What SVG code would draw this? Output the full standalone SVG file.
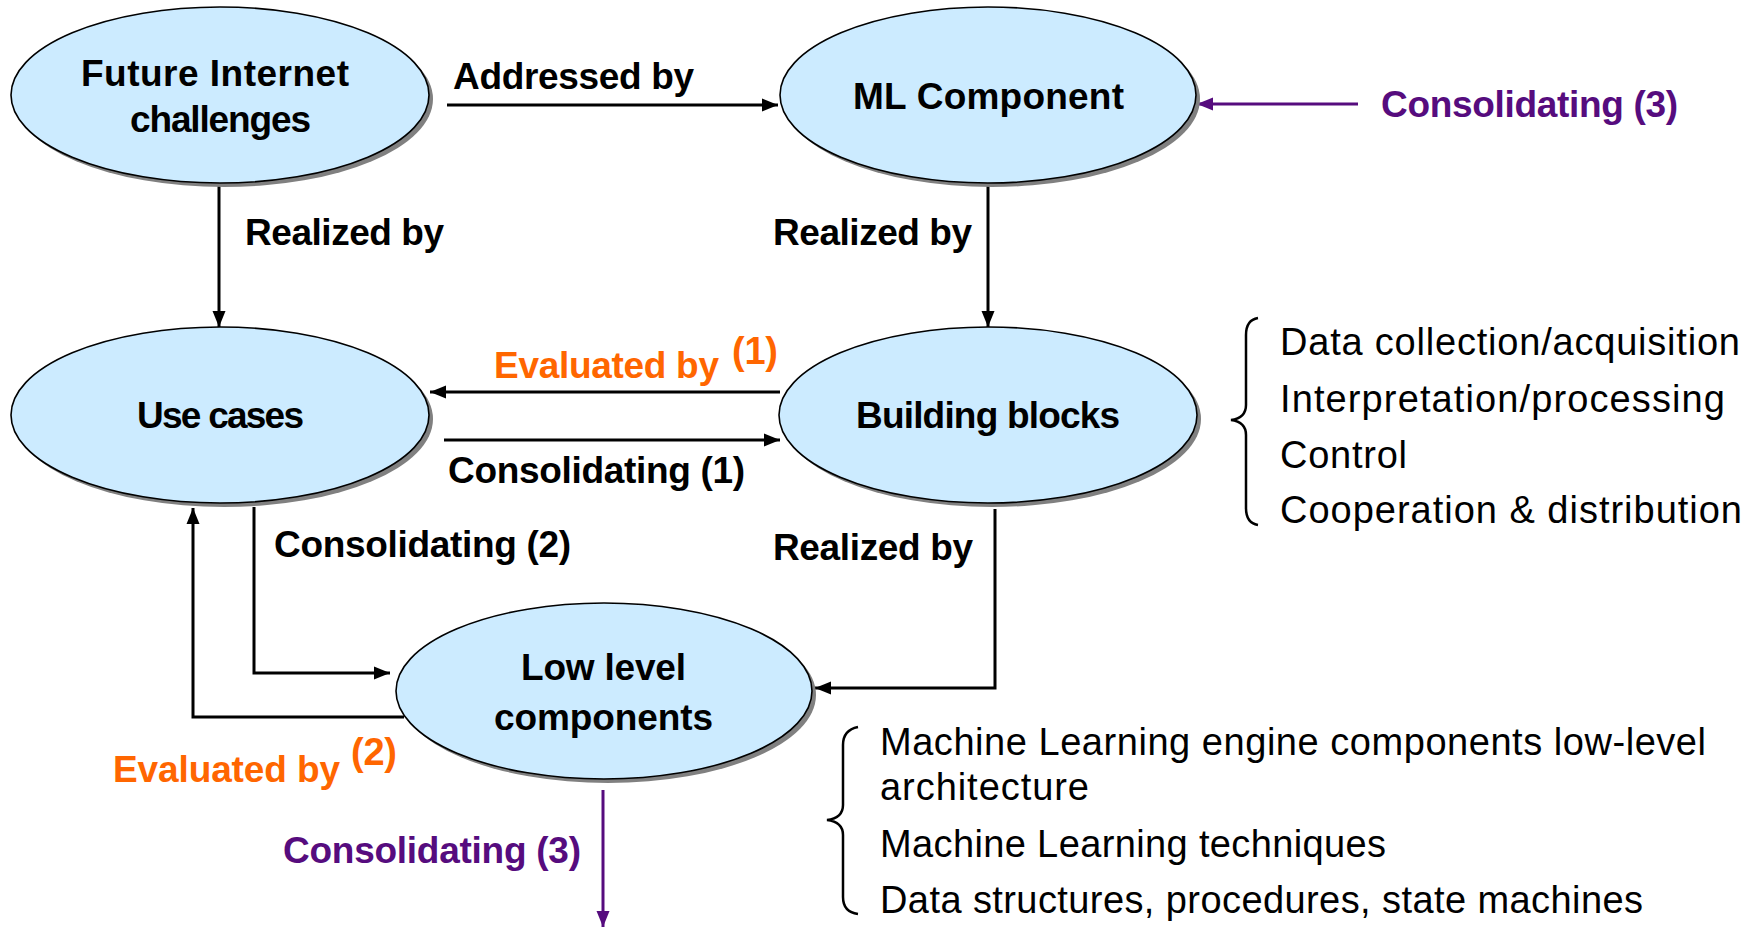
<svg xmlns="http://www.w3.org/2000/svg" width="1755" height="927" viewBox="0 0 1755 927">
<style>
.node-shadow{fill:#808080;}
.node{fill:#CCEBFF;stroke:#000;stroke-width:1.6;}
.lbl{font-family:"Liberation Sans",Arial,sans-serif;font-weight:bold;font-size:37px;fill:#000;}
.edge{font-family:"Liberation Sans",Arial,sans-serif;font-weight:bold;font-size:37px;fill:#000;}
.orange{fill:#FF6600;}
.purple{fill:#560C7E;}
.sup{font-family:"Liberation Sans",Arial,sans-serif;font-weight:bold;font-size:38px;fill:#FF6600;}
.list{font-family:"Liberation Sans",Arial,sans-serif;font-size:38px;fill:#000;}
.conn{fill:none;stroke:#000;stroke-width:3;}
.connp{fill:none;stroke:#560C7E;stroke-width:3;}
.brace{fill:none;stroke:#000;stroke-width:2.5;}
</style>
<defs>
<marker id="ah" markerUnits="userSpaceOnUse" markerWidth="16" markerHeight="16" viewBox="0 0 16 16" refX="16" refY="8" orient="auto">
<path d="M0,1.5 L16,8 L0,14.5 Z" fill="#000"/>
</marker>
<marker id="ahp" markerUnits="userSpaceOnUse" markerWidth="16" markerHeight="16" viewBox="0 0 16 16" refX="16" refY="8" orient="auto">
<path d="M0,1.5 L16,8 L0,14.5 Z" fill="#560C7E"/>
</marker>
</defs>
<rect width="1755" height="927" fill="#fff"/>

<g id="connectors">
<path class="conn" d="M447,105 H778" marker-end="url(#ah)"/>
<path class="conn" d="M219,183 V327" marker-end="url(#ah)"/>
<path class="conn" d="M988,183 V327" marker-end="url(#ah)"/>
<path class="conn" d="M780,392 H430" marker-end="url(#ah)"/>
<path class="conn" d="M444,440 H780" marker-end="url(#ah)"/>
<path class="conn" d="M254,507 V673 H390" marker-end="url(#ah)"/>
<path class="conn" d="M404,717 H193 V508" marker-end="url(#ah)"/>
<path class="conn" d="M995,509 V688 H815" marker-end="url(#ah)"/>
<path class="connp" d="M1358,104 H1197" marker-end="url(#ahp)"/>
<path class="connp" d="M603,790 V927" stroke-width="2" marker-end="url(#ahp)"/>
</g>

<g id="node-future-internet">
<ellipse class="node-shadow" cx="224" cy="99" rx="209" ry="88"/>
<ellipse class="node" cx="220" cy="95" rx="209" ry="88"/>
<text class="lbl" x="81" y="86" textLength="268">Future Internet</text>
<text class="lbl" x="130" y="132" textLength="181">challenges</text>
</g>

<g id="node-ml-component">
<ellipse class="node-shadow" cx="992" cy="99" rx="208" ry="88"/>
<ellipse class="node" cx="988" cy="95" rx="208" ry="88"/>
<text class="lbl" x="853" y="109" textLength="271">ML Component</text>
</g>

<g id="node-use-cases">
<ellipse class="node-shadow" cx="224" cy="419" rx="209" ry="88"/>
<ellipse class="node" cx="220" cy="415" rx="209" ry="88"/>
<text class="lbl" x="137" y="428" textLength="167">Use cases</text>
</g>

<g id="node-building-blocks">
<ellipse class="node-shadow" cx="992" cy="419" rx="209" ry="88"/>
<ellipse class="node" cx="988" cy="415" rx="209" ry="88"/>
<text class="lbl" x="856" y="428" textLength="264">Building blocks</text>
</g>

<g id="node-low-level">
<ellipse class="node-shadow" cx="608" cy="695" rx="208" ry="88"/>
<ellipse class="node" cx="604" cy="691" rx="208" ry="88"/>
<text class="lbl" x="521" y="680" textLength="165">Low level</text>
<text class="lbl" x="494" y="730" textLength="219">components</text>
</g>

<g id="edge-labels">
<text class="edge" x="453" y="89" textLength="241">Addressed by</text>
<text class="edge" x="245" y="245" textLength="199">Realized by</text>
<text class="edge" x="773" y="245" textLength="199">Realized by</text>
<text class="edge orange" x="494" y="378" textLength="225">Evaluated by</text>
<text class="sup" x="732" y="364" textLength="46">(1)</text>
<text class="edge" x="448" y="483" textLength="297">Consolidating (1)</text>
<text class="edge" x="274" y="557" textLength="297">Consolidating (2)</text>
<text class="edge" x="773" y="560" textLength="200">Realized by</text>
<text class="edge orange" x="113" y="782" textLength="227">Evaluated by</text>
<text class="sup" x="351" y="765" textLength="46">(2)</text>
<text class="edge purple" x="283" y="863" textLength="298">Consolidating (3)</text>
<text class="edge purple" x="1381" y="117" textLength="297">Consolidating (3)</text>
</g>

<g id="building-blocks-list">
<path class="brace" d="M1258,318 Q1246,320 1246,335 V405 Q1246,418 1231,420 Q1246,422 1246,435 V508 Q1246,523 1258,525"/>
<text class="list" x="1280" y="355" textLength="460">Data collection/acquisition</text>
<text class="list" x="1280" y="412" textLength="445">Interpretation/processing</text>
<text class="list" x="1280" y="468" textLength="127">Control</text>
<text class="list" x="1280" y="523" textLength="462">Cooperation &amp; distribution</text>
</g>

<g id="low-level-list">
<path class="brace" d="M858,727 Q843,730 843,745 V805 Q843,818 827,820 Q843,822 843,835 V897 Q843,912 858,914"/>
<text class="list" x="880" y="755" textLength="826">Machine Learning engine components low-level</text>
<text class="list" x="880" y="800" textLength="209">architecture</text>
<text class="list" x="880" y="857" textLength="506">Machine Learning techniques</text>
<text class="list" x="880" y="913" textLength="763">Data structures, procedures, state machines</text>
</g>
</svg>
